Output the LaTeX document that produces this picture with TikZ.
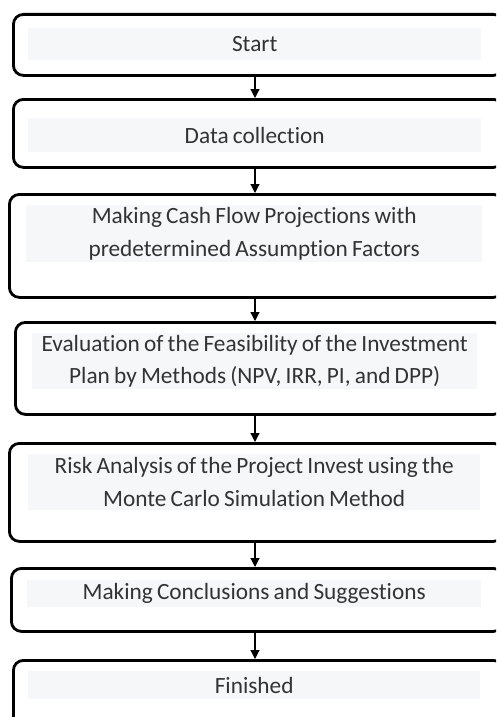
\documentclass[tikz,border=0pt]{standalone}
\usepackage{fontspec}
\setmainfont{Carlito}[Ligatures={NoCommon}, WordSpace={0.8}]
\usetikzlibrary{arrows.meta}
\definecolor{band}{HTML}{F6F7F9}
\definecolor{txt}{HTML}{333333}
\tikzset{
  box/.style={draw=black, line width=2.8pt, rounded corners=10pt, fill=white, inner sep=0pt, anchor=north west},
  bandbox/.style={fill=band, draw=none, inner sep=0pt, anchor=north west, text=txt, align=center,
    font=\fontsize{23.3}{32.5}\selectfont},
  arr/.style={draw=black, line width=1.2pt, -{Triangle[width=9pt,length=9pt]}}
}
\begin{document}
\begin{tikzpicture}[x=1pt,y=-1pt]
\useasboundingbox (0,0) rectangle (496,717);
\clip (0,0) rectangle (496,717);
% boxes
\node[box, minimum width=490pt, minimum height=61pt] (b1) at (12,13) {};
\node[box, minimum width=490pt, minimum height=68pt] (b2) at (12,98) {};
\node[box, minimum width=494pt, minimum height=103pt] (b3) at (8,193) {};
\node[box, minimum width=488pt, minimum height=92pt] (b4) at (14,321) {};
\node[box, minimum width=494pt, minimum height=98pt] (b5) at (8,442) {};
\node[box, minimum width=492pt, minimum height=63pt] (b6) at (10,567) {};
\node[box, minimum width=490pt, minimum height=80pt] (b7) at (12,659) {};
% text bands
\node[bandbox, minimum width=453pt, minimum height=32pt] (t1) at (28,28) {Start};
\node[bandbox, minimum width=453pt, minimum height=34pt] (t2) at (28,118) {Data collection};
\node[bandbox, minimum width=456pt, minimum height=57pt] (t3) at (26,205) {Making Cash Flow Projections with\\predetermined Assumption Factors};
\node[bandbox, minimum width=445pt, minimum height=56pt] (t4) at (32,333) {Evaluation of the Feasibility of the Investment\\Plan by Methods (NPV, IRR, PI, and DPP)};
\node[bandbox, minimum width=452pt, minimum height=56pt] (t5) at (28,454) {Risk Analysis of the Project Invest using the\\Monte Carlo Simulation Method};
\node[bandbox, minimum width=454pt, minimum height=27pt] (t6) at (27,580) {Making Conclusions and Suggestions};
\node[bandbox, minimum width=452pt, minimum height=28pt] (t7) at (28,671) {Finished};
% arrows
\coordinate (ax) at (255,0);
\draw[arr] (b1.south -| ax) -- (b2.north -| ax);
\draw[arr] (b2.south -| ax) -- (b3.north -| ax);
\draw[arr] (b3.south -| ax) -- (b4.north -| ax);
\draw[arr] (b4.south -| ax) -- (b5.north -| ax);
\draw[arr] (b5.south -| ax) -- (b6.north -| ax);
\draw[arr] (b6.south -| ax) -- (b7.north -| ax);
\end{tikzpicture}
\end{document}
